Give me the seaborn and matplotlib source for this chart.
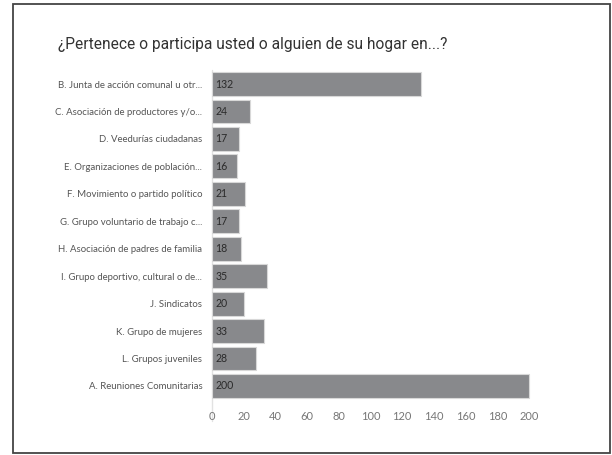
import matplotlib
matplotlib.use("Agg")
import matplotlib.pyplot as plt
import seaborn as sns
import pandas as pd
from matplotlib.lines import Line2D
from matplotlib.patches import Rectangle

categories = [
    "B. Junta de acción comunal u otr...",
    "C. Asociación de productores y/o...",
    "D. Veedurías ciudadanas",
    "E. Organizaciones de población...",
    "F. Movimiento o partido político",
    "G. Grupo voluntario de trabajo c...",
    "H. Asociación de padres de familia",
    "I. Grupo deportivo, cultural o de...",
    "J. Sindicatos",
    "K. Grupo de mujeres",
    "L. Grupos juveniles",
    "A. Reuniones Comunitarias",
]
values = [132, 24, 17, 16, 21, 17, 18, 35, 20, 33, 28, 200]
xticks = [0, 20, 40, 60, 80, 100, 120, 140, 160, 180, 200]
title = "¿Pertenece o participa usted o alguien de su hogar en...?"

df = pd.DataFrame({"cat": categories, "val": values})

sns.set_theme(style="white")
plt.rcParams["font.family"] = ["Lato", "DejaVu Sans"]

fig = plt.figure(figsize=(6.12, 4.55), dpi=100)
x0, x200 = 212, 529
ppu = (x200 - x0) / 200
xmax = 210
ax = fig.add_axes([x0/612, 1 - 399.7/455, xmax*ppu/612, 329.4/455])

sns.barplot(data=df, y="cat", x="val", orient="h", color="#88898c",
            saturation=1, width=0.87, edgecolor="#d8d8d8", linewidth=0.8, ax=ax)

ax.set_xlim(0, xmax)
ax.set_ylim(11.5, -0.5)
ax.set_xlabel("")
ax.set_ylabel("")
ax.set_xticks(xticks)
ax.set_xticklabels([str(t) for t in xticks], fontsize=8, color="#777777")
ax.tick_params(axis="x", length=0, pad=8)
ax.tick_params(axis="y", length=0, pad=7, labelsize=6.9, labelcolor="#555555")
for s in ax.spines.values():
    s.set_visible(False)

ax.add_line(Line2D([0, 0], [-0.065, 1.0], transform=ax.transAxes, color="#e2e2e2",
                   lw=1, clip_on=False, zorder=0))

for i, v in enumerate(values):
    ax.text(2, i, str(v), va="center", ha="left", fontsize=7.6, color="#2a2a2a")

fig.text(58/612, 1 - 45/455, title, fontsize=11.2, color="#333333",
         family=["Roboto", "DejaVu Sans"], va="center", ha="left")

fig.patches.append(Rectangle((13/612, 1 - 453/455), 597/612, 449/455,
                             transform=fig.transFigure, fill=False,
                             edgecolor="#444444", lw=1.3))

fig.savefig("out.png", dpi=100)
